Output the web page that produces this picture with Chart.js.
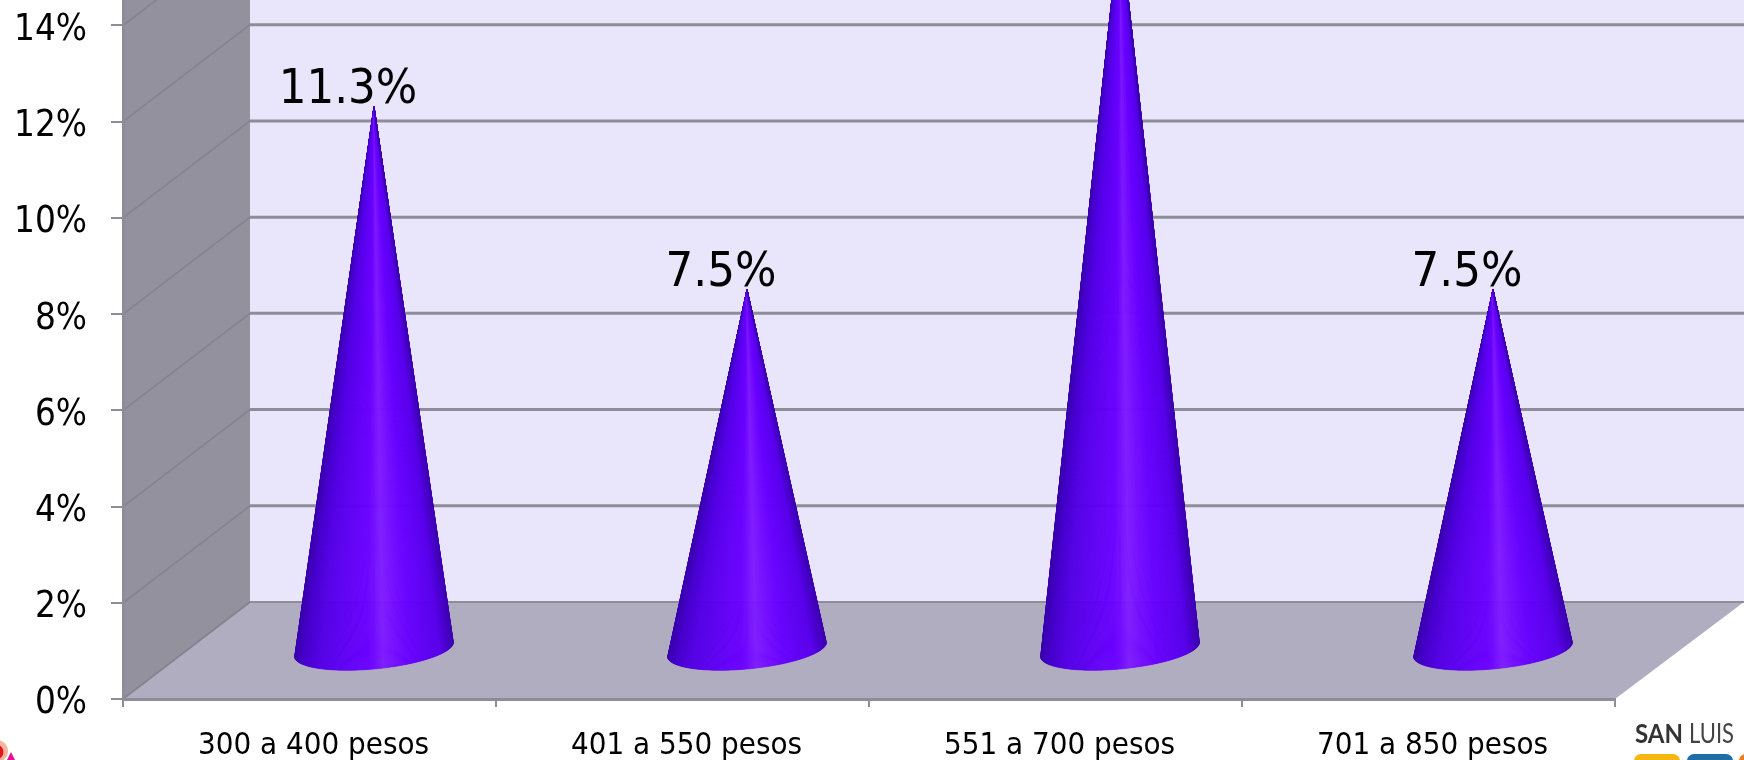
<!DOCTYPE html>
<html>
<head>
<meta charset="utf-8">
<title>Rangos de pesos</title>
<style>
  html, body { margin: 0; padding: 0; background: #ffffff; overflow: hidden; }
  #wrap { position: relative; width: 1744px; height: 760px; }
</style>
<script src="https://cdn.jsdelivr.net/npm/chart.js@4/dist/chart.umd.js"></script>
</head>
<body>
<div id="wrap"><canvas id="chart" width="1744" height="760"></canvas></div>
<script>
// Chart values
const categories = ["300 a 400 pesos", "401 a 550 pesos", "551 a 700 pesos", "701 a 850 pesos"];
const shares = [11.3, 7.5, 15.1, 7.5];
const shareLabels = ["11.3%", "7.5%", "15.1%", "7.5%"];

// Box drawing: depth of the room in pixels, and its colours
const DEPTH_X = 127;
const DEPTH_Y = 97;
const FONT = '"DejaVu Sans Condensed", "DejaVu Sans", sans-serif';
const LOGO_FONT = 'Lato, "Open Sans", sans-serif';
const SHADES = [
  [0.00, [58, 0, 172]], [0.06, [70, 0, 205]], [0.16, [84, 0, 230]], [0.32, [96, 0, 245]],
  [0.46, [106, 0, 255]], [0.56, [126, 28, 255]], [0.64, [116, 12, 255]], [0.74, [102, 0, 255]],
  [0.92, [88, 0, 235]], [1.00, [62, 0, 180]]
];

function shadeAt(s) {
  for (let i = 1; i < SHADES.length; i++) {
    if (s <= SHADES[i][0]) {
      const [a, ca] = SHADES[i - 1];
      const [b, cb] = SHADES[i];
      const k = (s - a) / (b - a);
      const c = ca.map((v, n) => Math.round(v + (cb[n] - v) * k));
      return `rgb(${c[0]},${c[1]},${c[2]})`;
    }
  }
  return "rgb(62,0,180)";
}

// Moves a scale's tick labels by a fixed number of pixels
function nudgeLabels(scale, dx, dy) {
  if (scale.labelsNudged) return;
  const compute = scale._computeLabelItems.bind(scale);
  scale._computeLabelItems = area => compute(area).map(item => {
    item.options.translation[0] += dx;
    item.options.translation[1] += dy;
    return item;
  });
  scale.labelsNudged = true;
}

// A bar element that paints itself as a shaded cone standing mid-depth on the floor
class ConeElement extends Chart.BarElement {
  draw(ctx) {
    const { x, y, base, width } = this.getProps(["x", "y", "base", "width"], true);
    const cx = x + DEPTH_X / 2 + 1;
    const cy = base - DEPTH_Y / 2;
    const apexY = y - DEPTH_Y / 2;
    const halfW = width / 2;
    // Circular footprint in oblique projection: radius vectors (a,0) and (p,-q)
    const q = halfW * 0.262;
    const p = q * DEPTH_X / DEPTH_Y;
    const a = Math.sqrt(halfW * halfW - p * p);
    const point = t => [cx + a * Math.cos(t) + p * Math.sin(t), cy - q * Math.sin(t)];
    const tRight = Math.atan2(p, a);
    const tLeft = tRight - Math.PI;
    const steps = 240;
    ctx.save();
    ctx.lineWidth = 0.6;
    ctx.lineJoin = "round";
    for (let i = 0; i < steps; i++) {
      const p0 = point(tLeft + (Math.PI * i) / steps);
      const p1 = point(tLeft + (Math.PI * (i + 1)) / steps);
      const colour = shadeAt(Math.min(1, Math.max(0, ((p0[0] + p1[0]) / 2 - (cx - halfW)) / width)));
      ctx.fillStyle = colour;
      ctx.strokeStyle = colour;
      ctx.beginPath();
      ctx.moveTo(cx, apexY);
      ctx.lineTo(p0[0], p0[1]);
      ctx.lineTo(p1[0], p1[1]);
      ctx.closePath();
      ctx.fill();
      ctx.stroke();
    }
    ctx.restore();
  }
}
ConeElement.id = "cone";
ConeElement.defaults = { ...Chart.BarElement.defaults };
Chart.register(ConeElement);

class ConeController extends Chart.BarController {}
ConeController.id = "cone";
ConeController.defaults = { ...Chart.BarController.defaults, dataElementType: "cone" };
Chart.register(ConeController);

// Walls and floor behind the axes
const roomPlugin = {
  id: "room",
  beforeDraw(chart) {
    const { ctx, chartArea: area, scales } = chart;
    const yScale = scales.y;
    const floorY = yScale.getPixelForValue(0);
    const W = chart.width;
    ctx.save();
    // back wall
    ctx.fillStyle = "#e9e5fb";
    ctx.fillRect(area.left + DEPTH_X, 0, W - area.left - DEPTH_X, floorY - DEPTH_Y);
    // side wall
    ctx.fillStyle = "#94919f";
    ctx.beginPath();
    ctx.moveTo(area.left, 0);
    ctx.lineTo(area.left + DEPTH_X, 0);
    ctx.lineTo(area.left + DEPTH_X, floorY - DEPTH_Y);
    ctx.lineTo(area.left, floorY);
    ctx.closePath();
    ctx.fill();
    // floor
    ctx.fillStyle = "#b0adc0";
    ctx.beginPath();
    ctx.moveTo(area.left, floorY);
    ctx.lineTo(area.left + DEPTH_X, floorY - DEPTH_Y);
    ctx.lineTo(W, floorY - DEPTH_Y);
    ctx.lineTo(area.right, floorY);
    ctx.closePath();
    ctx.fill();
    // grid lines on the back wall, with their runs across the side wall
    yScale.ticks.forEach(tick => {
      const py = yScale.getPixelForValue(tick.value);
      ctx.strokeStyle = "#85828f";
      ctx.lineWidth = 1.6;
      ctx.beginPath();
      ctx.moveTo(area.left, py);
      ctx.lineTo(area.left + DEPTH_X, py - DEPTH_Y);
      ctx.stroke();
      ctx.strokeStyle = "#8f8c99";
      ctx.lineWidth = tick.value === 0 ? 2 : 3;
      ctx.beginPath();
      ctx.moveTo(area.left + DEPTH_X, py - DEPTH_Y);
      ctx.lineTo(W, py - DEPTH_Y);
      ctx.stroke();
    });
    ctx.restore();
  }
};

// Percent labels above each apex, plus the two corner logos
const labelPlugin = {
  id: "labels",
  afterDraw(chart) {
    const { ctx } = chart;
    const meta = chart.getDatasetMeta(0);
    ctx.save();
    ctx.fillStyle = "#000000";
    ctx.font = `48.5px ${FONT}`;
    ctx.textAlign = "center";
    ctx.textBaseline = "alphabetic";
    meta.data.forEach((bar, i) => {
      ctx.fillText(shareLabels[i], bar.x + DEPTH_X / 2 - 25, bar.y - DEPTH_Y / 2 - 4);
    });

    // San Luis wordmark
    ctx.textAlign = "left";
    ctx.fillStyle = "#333333";
    ctx.font = `bold 27px ${LOGO_FONT}`;
    ctx.fillText("SAN", 1635, 743, 48);
    ctx.fillStyle = "#444444";
    ctx.font = `27px ${LOGO_FONT}`;
    ctx.fillText("LUIS", 1689, 743, 45);
    [["#f5b70e", 1634], ["#1f6ea8", 1687], ["#ee7a1c", 1739]].forEach(([c, bx]) => {
      ctx.fillStyle = c;
      ctx.beginPath();
      ctx.roundRect(bx, 754, 46, 20, 7);
      ctx.fill();
    });

    // Edge of the flame logo, bottom left
    ctx.fillStyle = "#f7b59a";
    ctx.beginPath();
    ctx.arc(-3, 751, 11, 0, Math.PI * 2);
    ctx.fill();
    ctx.fillStyle = "#e5141c";
    ctx.beginPath();
    ctx.arc(-4, 752, 7.5, 0, Math.PI * 2);
    ctx.fill();
    ctx.fillStyle = "#e8109a";
    ctx.beginPath();
    ctx.moveTo(7, 760);
    ctx.lineTo(11, 752);
    ctx.lineTo(15, 760);
    ctx.closePath();
    ctx.fill();
    ctx.restore();
  }
};

new Chart(document.getElementById("chart"), {
  type: "cone",
  data: {
    labels: categories,
    datasets: [{
      data: shares,
      categoryPercentage: 0.425,
      barPercentage: 1,
      backgroundColor: "#6a00ff"
    }]
  },
  plugins: [roomPlugin, labelPlugin],
  options: {
    responsive: false,
    animation: false,
    layout: { padding: { top: 0, left: 0, right: 129, bottom: 0 } },
    plugins: { legend: { display: false }, tooltip: { enabled: false } },
    scales: {
      x: {
        type: "category",
        grid: { display: true, drawOnChartArea: false, tickLength: 8, color: "#8f8c99", lineWidth: 2, offset: true },
        border: { display: true, color: "#8f8c99", width: 3 },
        ticks: { color: "#000000", font: { family: FONT, size: 31 }, padding: 20, maxRotation: 0, autoSkip: false },
        afterFit(scale) {
          scale.height = 61;
          scale.paddingLeft = 0;
          scale.paddingRight = 0;
          nudgeLabels(scale, 4, 0);
        }
      },
      y: {
        type: "linear",
        min: 0,
        max: 14.53,
        grid: { display: true, drawOnChartArea: false, tickLength: 12, color: "#8f8c99", lineWidth: 2 },
        border: { display: true, color: "#8f8c99", width: 3 },
        ticks: {
          stepSize: 2,
          includeBounds: false,
          color: "#000000",
          font: { family: FONT, size: 36.5 },
          padding: 24,
          callback: v => v + "%"
        },
        afterFit(scale) {
          scale.width = 123;
          scale.paddingTop = 0;
          scale.paddingBottom = 0;
          nudgeLabels(scale, 0, 5);
        }
      }
    }
  }
});
</script>
</body>
</html>
